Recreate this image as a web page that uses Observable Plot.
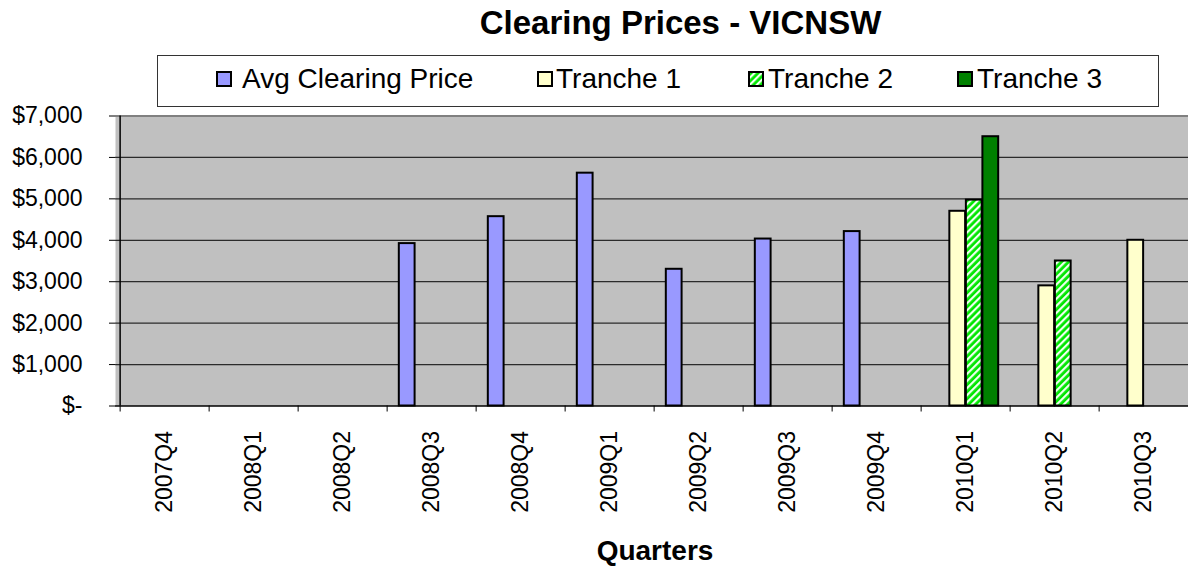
<!DOCTYPE html>
<html><head><meta charset="utf-8">
<script src="https://cdn.jsdelivr.net/npm/d3@7"></script>
<script src="https://cdn.jsdelivr.net/npm/@observablehq/plot@0.6"></script>
<style>
body{margin:0;background:#fff;font-family:"Liberation Sans",Arial,sans-serif;color:#000;}
#wrap{width:1188px;height:568px;overflow:hidden;position:relative;}
#title{height:55px;line-height:46px;font-size:33px;font-weight:bold;text-align:center;padding-left:173px;box-sizing:border-box;width:1188px;}
#legend{position:relative;margin-left:157px;width:1002px;height:52px;border:1px solid #333;box-sizing:border-box;font-size:28px;}
#legend .sw{position:absolute;top:15px;}
#legend .lt{position:absolute;top:0;line-height:46px;white-space:nowrap;}
#chart{margin-top:-12px;position:relative;}
#chart svg{display:block;}
#xlabel{height:33px;line-height:31px;font-size:28px;font-weight:bold;text-align:center;padding-left:122px;box-sizing:border-box;width:1188px;}
</style></head>
<body><div id="wrap">
<div id="title">Clearing Prices - VICNSW</div>
<div id="legend"></div>
<div id="chart"></div>
<div id="xlabel">Quarters</div>
</div>
<script>
// ---- data ----
const quarters = ["2007Q4","2008Q1","2008Q2","2008Q3","2008Q4","2009Q1","2009Q2","2009Q3","2009Q4","2010Q1","2010Q2","2010Q3"];
const seriesNames = ["Avg Clearing Price","Tranche 1","Tranche 2","Tranche 3"];
const avgClearingPrice = [null,null,null,3920,4570,5620,3300,4030,4210,null,null,null];
const tranche1 = [null,null,null,null,null,null,null,null,null,4700,2900,4000];
const tranche2 = [null,null,null,null,null,null,null,null,null,4970,3500,null];
const tranche3 = [null,null,null,null,null,null,null,null,null,6500,null,null];
const yTicks = [0,1000,2000,3000,4000,5000,6000,7000];

// ---- styles ----
const seriesFills = ["#9999ff","#ffffcc","url(#hatchT2)","#008000"];
const W = 1188, H = 440, mL = 115, mR = -4, mT = 20.5, mB = 129.5;
const bw = (W - mL - mR) / quarters.length;
const slot = bw / 5.43;
const pad = (bw - 4 * slot) / 2;

const seriesValues = [avgClearingPrice, tranche1, tranche2, tranche3];
const rowsFor = (vals) => quarters.map((q, i) => ({q, v: vals[i]})).filter(d => d.v != null);

const fmt = d => d === 0 ? "$-" : "$" + d3.format(",")(d);

const barMarks = seriesValues.map((vals, k) => Plot.barY(rowsFor(vals), {
  x: "q", y: "v", fill: seriesFills[k], stroke: "#000", strokeWidth: 2,
  insetLeft: pad + k * slot, insetRight: bw - pad - (k + 1) * slot
}));

const chart = Plot.plot({
  width: W, height: H, marginLeft: mL, marginRight: mR, marginTop: mT, marginBottom: mB,
  style: {fontFamily: "'Liberation Sans', Arial, sans-serif", fontSize: "23px", background: "transparent", color: "#000", overflow: "hidden"},
  x: {type: "band", domain: quarters, padding: 0, label: null},
  y: {domain: [0, 7000], label: null},
  marks: [
    Plot.frame({fill: "#c0c0c0", stroke: null}),
    Plot.gridY(yTicks.slice(1, -1), {stroke: "#111", strokeOpacity: 0.85, strokeWidth: 1.2}),
    Plot.ruleY([7000], {stroke: "#808080", strokeWidth: 2}),
    ...barMarks,
    Plot.ruleY([0], {stroke: "#000", strokeWidth: 1.5}),
    Plot.ruleX([quarters[0]], {x: d => d, dx: -bw / 2, stroke: "#000", strokeWidth: 1.5}),
    Plot.ruleX(quarters, {x: d => d, dx: -bw / 2, insetTop: H - mT - mB, insetBottom: -6, stroke: "#000", strokeWidth: 1}),
    Plot.axisY({ticks: yTicks, tickFormat: fmt, tickSize: 6, tickPadding: 27, fontSize: 23, label: null}),
    Plot.axisX({tickRotate: -90, tickSize: 0, tickPadding: 25, fontSize: 23, label: null})
  ]
});

// hatch pattern for Tranche 2
const defs = d3.select(chart).insert("defs", ":first-child");
const pat = defs.append("pattern").attr("id", "hatchT2").attr("patternUnits", "userSpaceOnUse")
  .attr("width", 5).attr("height", 5).attr("patternTransform", "rotate(45)");
pat.append("rect").attr("width", 5).attr("height", 5).attr("fill", "#00e600");
pat.append("rect").attr("width", 2.2).attr("height", 5).attr("fill", "#f0fff0");
document.getElementById("chart").appendChild(chart);

// legend
const legendSw = [216, 537, 748, 957];
const legendTx = [242, 556, 768, 977];
const lg = document.getElementById("legend");
seriesNames.forEach((name, k) => {
  const sw = document.createElementNS("http://www.w3.org/2000/svg", "svg");
  sw.setAttribute("width", 16); sw.setAttribute("height", 16);
  sw.setAttribute("class", "sw");
  sw.style.left = (legendSw[k] - 158) + "px";
  sw.innerHTML = `<rect x="1" y="1" width="14" height="14" fill="${seriesFills[k]}" stroke="#000" stroke-width="2"/>`;
  lg.appendChild(sw);
  const t = document.createElement("div");
  t.className = "lt"; t.textContent = name;
  t.style.left = (legendTx[k] - 158) + "px";
  lg.appendChild(t);
});
</script>
</body></html>
